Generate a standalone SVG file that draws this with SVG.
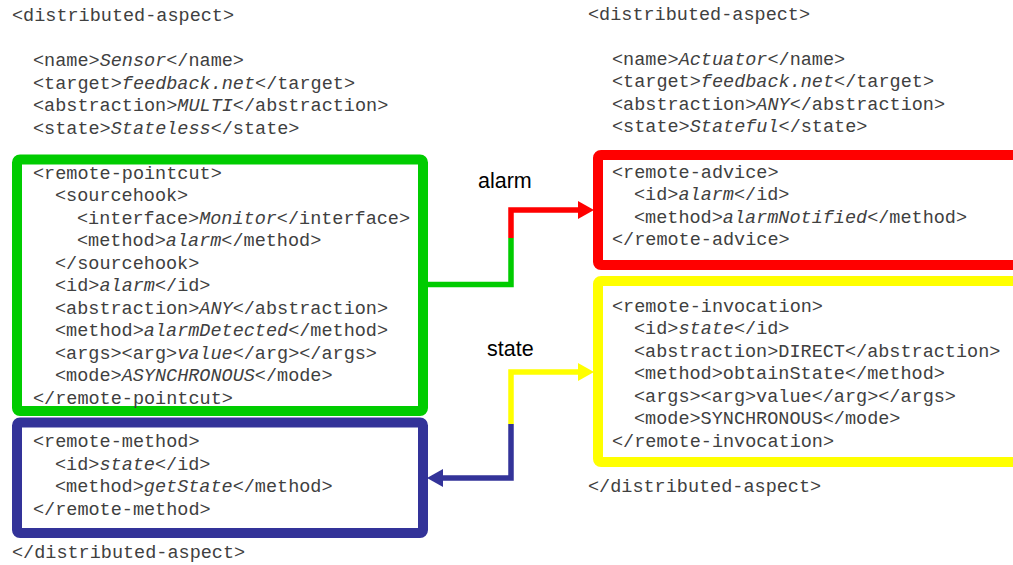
<svg xmlns="http://www.w3.org/2000/svg" width="1013" height="565" viewBox="0 0 1013 565">
  <style>
    .code { font-family: "Liberation Mono", "Courier New", monospace; font-size: 18.5px; fill: #404040; }
    .i { font-style: italic; }
    .lbl { font-family: "Liberation Sans", Arial, sans-serif; font-size: 21.5px; fill: #000000; }
    .box { fill: #ffffff; stroke-width: 10; }
    .wire { fill: none; stroke-width: 5.5; }
  </style>
  <defs>
    <marker id="headRed" markerUnits="userSpaceOnUse" viewBox="0 0 16 18" refX="6" refY="9" markerWidth="16" markerHeight="18" orient="auto">
      <path d="M0,0 L16,9 L0,18 Z" fill="#ff0000"/>
    </marker>
    <marker id="headYellow" markerUnits="userSpaceOnUse" viewBox="0 0 16 18" refX="6" refY="9" markerWidth="16" markerHeight="18" orient="auto">
      <path d="M0,0 L16,9 L0,18 Z" fill="#ffff00"/>
    </marker>
    <marker id="headBlue" markerUnits="userSpaceOnUse" viewBox="0 0 16 18" refX="6" refY="9" markerWidth="16" markerHeight="18" orient="auto">
      <path d="M0,0 L16,9 L0,18 Z" fill="#333399"/>
    </marker>
  </defs>

  <rect width="1013" height="565" fill="#ffffff"/>

  <!-- Sensor aspect header -->
  <g id="sensor-header" class="code">
    <text x="12" y="21">&lt;distributed-aspect&gt;</text>
    <text x="33" y="66">&lt;name&gt;<tspan class="i">Sensor</tspan>&lt;/name&gt;</text>
    <text x="33" y="88.5">&lt;target&gt;<tspan class="i">feedback.net</tspan>&lt;/target&gt;</text>
    <text x="33" y="111">&lt;abstraction&gt;<tspan class="i">MULTI</tspan>&lt;/abstraction&gt;</text>
    <text x="33" y="133.5">&lt;state&gt;<tspan class="i">Stateless</tspan>&lt;/state&gt;</text>
  </g>

  <!-- remote-pointcut -->
  <g id="remote-pointcut">
    <rect class="box" x="17" y="159.5" width="406" height="251.5" rx="3" stroke="#00cc00"/>
    <g class="code">
      <text x="33" y="178.5">&lt;remote-pointcut&gt;</text>
      <text x="55" y="201">&lt;sourcehook&gt;</text>
      <text x="77" y="223.5">&lt;interface&gt;<tspan class="i">Monitor</tspan>&lt;/interface&gt;</text>
      <text x="77" y="246">&lt;method&gt;<tspan class="i">alarm</tspan>&lt;/method&gt;</text>
      <text x="55" y="268.5">&lt;/sourcehook&gt;</text>
      <text x="55" y="291">&lt;id&gt;<tspan class="i">alarm</tspan>&lt;/id&gt;</text>
      <text x="55" y="313.5">&lt;abstraction&gt;<tspan class="i">ANY</tspan>&lt;/abstraction&gt;</text>
      <text x="55" y="336">&lt;method&gt;<tspan class="i">alarmDetected</tspan>&lt;/method&gt;</text>
      <text x="55" y="358.5">&lt;args&gt;&lt;arg&gt;<tspan class="i">value</tspan>&lt;/arg&gt;&lt;/args&gt;</text>
      <text x="55" y="381">&lt;mode&gt;<tspan class="i">ASYNCHRONOUS</tspan>&lt;/mode&gt;</text>
      <text x="33" y="403.5">&lt;/remote-pointcut&gt;</text>
    </g>
  </g>

  <!-- remote-method -->
  <g id="remote-method">
    <rect class="box" x="17" y="422.5" width="406" height="110.5" rx="3" stroke="#333399"/>
    <g class="code">
      <text x="33" y="447">&lt;remote-method&gt;</text>
      <text x="55" y="469.5">&lt;id&gt;<tspan class="i">state</tspan>&lt;/id&gt;</text>
      <text x="55" y="492">&lt;method&gt;<tspan class="i">getState</tspan>&lt;/method&gt;</text>
      <text x="33" y="514.5">&lt;/remote-method&gt;</text>
    </g>
  </g>

  <g id="sensor-footer" class="code">
    <text x="12" y="558">&lt;/distributed-aspect&gt;</text>
  </g>

  <!-- Actuator aspect header -->
  <g id="actuator-header" class="code">
    <text x="588" y="20">&lt;distributed-aspect&gt;</text>
    <text x="612" y="64.5">&lt;name&gt;<tspan class="i">Actuator</tspan>&lt;/name&gt;</text>
    <text x="612" y="87">&lt;target&gt;<tspan class="i">feedback.net</tspan>&lt;/target&gt;</text>
    <text x="612" y="109.5">&lt;abstraction&gt;<tspan class="i">ANY</tspan>&lt;/abstraction&gt;</text>
    <text x="612" y="132">&lt;state&gt;<tspan class="i">Stateful</tspan>&lt;/state&gt;</text>
  </g>

  <!-- remote-advice -->
  <g id="remote-advice">
    <rect class="box" x="598" y="155" width="430" height="110" rx="3" stroke="#ff0000"/>
    <g class="code">
      <text x="612" y="177.5">&lt;remote-advice&gt;</text>
      <text x="634" y="200">&lt;id&gt;<tspan class="i">alarm</tspan>&lt;/id&gt;</text>
      <text x="634" y="222.5">&lt;method&gt;<tspan class="i">alarmNotified</tspan>&lt;/method&gt;</text>
      <text x="612" y="245">&lt;/remote-advice&gt;</text>
    </g>
  </g>

  <!-- remote-invocation -->
  <g id="remote-invocation">
    <rect class="box" x="598" y="281" width="430" height="181" rx="3" stroke="#ffff00"/>
    <g class="code">
      <text x="612" y="311.5">&lt;remote-invocation&gt;</text>
      <text x="634" y="334">&lt;id&gt;<tspan class="i">state</tspan>&lt;/id&gt;</text>
      <text x="634" y="356.5">&lt;abstraction&gt;DIRECT&lt;/abstraction&gt;</text>
      <text x="634" y="379">&lt;method&gt;obtainState&lt;/method&gt;</text>
      <text x="634" y="401.5">&lt;args&gt;&lt;arg&gt;value&lt;/arg&gt;&lt;/args&gt;</text>
      <text x="634" y="424">&lt;mode&gt;SYNCHRONOUS&lt;/mode&gt;</text>
      <text x="612" y="446.5">&lt;/remote-invocation&gt;</text>
    </g>
  </g>

  <g id="actuator-footer" class="code">
    <text x="588" y="491.5">&lt;/distributed-aspect&gt;</text>
  </g>

  <!-- connectors -->
  <g id="connectors">
    <path class="wire" d="M428,284.5 H511 V238" stroke="#00cc00"/>
    <path class="wire" d="M511,238 V210 H584" stroke="#ff0000" marker-end="url(#headRed)"/>
    <path class="wire" d="M511,424 V372 H584" stroke="#ffff00" marker-end="url(#headYellow)"/>
    <path class="wire" d="M511,424 V478 H437" stroke="#333399" marker-end="url(#headBlue)"/>
    <text class="lbl" x="478" y="188">alarm</text>
    <text class="lbl" x="487" y="356">state</text>
  </g>
</svg>
